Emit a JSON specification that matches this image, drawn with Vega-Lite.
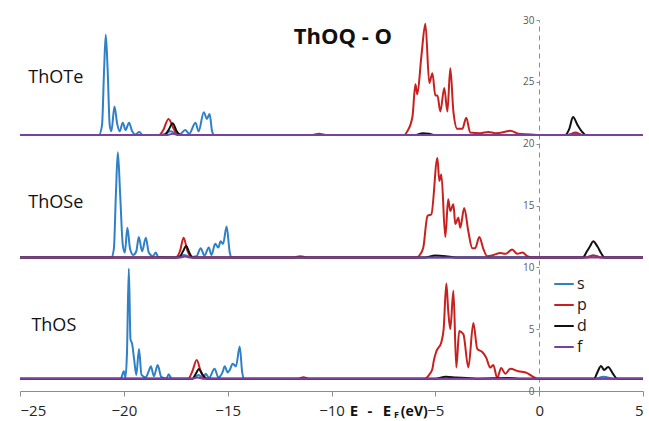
{
"$schema": "https://vega.github.io/schema/vega-lite/v6.json",
"width": 623,
"height": 371,
"autosize": {"type": "none"},
"padding": {"left": 20, "top": 20, "right": 6, "bottom": 30},
"config": {"view": {"stroke": null}, "font": "Open Sans"},
"layer": [
{
"data": {"values": [
{"sys":"ThOTe","orb":"s","e":-25,"dos":20.7},{"sys":"ThOTe","orb":"s","e":-21.2,"dos":20.7},{"sys":"ThOTe","orb":"s","e":-21.05,"dos":21.5},{"sys":"ThOTe","orb":"s","e":-20.95,"dos":26},{"sys":"ThOTe","orb":"s","e":-20.87,"dos":28.8},{"sys":"ThOTe","orb":"s","e":-20.78,"dos":26},{"sys":"ThOTe","orb":"s","e":-20.68,"dos":21.5},{"sys":"ThOTe","orb":"s","e":-20.6,"dos":21.0},{"sys":"ThOTe","orb":"s","e":-20.45,"dos":23.0},{"sys":"ThOTe","orb":"s","e":-20.32,"dos":21.6},{"sys":"ThOTe","orb":"s","e":-20.2,"dos":21.0},{"sys":"ThOTe","orb":"s","e":-20.05,"dos":21.7},{"sys":"ThOTe","orb":"s","e":-19.92,"dos":21.1},{"sys":"ThOTe","orb":"s","e":-19.75,"dos":21.7},{"sys":"ThOTe","orb":"s","e":-19.6,"dos":21.0},{"sys":"ThOTe","orb":"s","e":-19.45,"dos":20.75},{"sys":"ThOTe","orb":"s","e":-19.25,"dos":20.95},{"sys":"ThOTe","orb":"s","e":-19.1,"dos":20.7},{"sys":"ThOTe","orb":"s","e":-18.3,"dos":20.7},{"sys":"ThOTe","orb":"s","e":-18.0,"dos":20.8},{"sys":"ThOTe","orb":"s","e":-17.75,"dos":21.0},{"sys":"ThOTe","orb":"s","e":-17.5,"dos":20.8},{"sys":"ThOTe","orb":"s","e":-17.3,"dos":20.75},{"sys":"ThOTe","orb":"s","e":-17.05,"dos":21.1},{"sys":"ThOTe","orb":"s","e":-16.85,"dos":20.8},{"sys":"ThOTe","orb":"s","e":-16.55,"dos":21.7},{"sys":"ThOTe","orb":"s","e":-16.4,"dos":21.0},{"sys":"ThOTe","orb":"s","e":-16.15,"dos":22.55},{"sys":"ThOTe","orb":"s","e":-16.0,"dos":22.0},{"sys":"ThOTe","orb":"s","e":-15.87,"dos":22.4},{"sys":"ThOTe","orb":"s","e":-15.75,"dos":21.0},{"sys":"ThOTe","orb":"s","e":-15.65,"dos":20.7},{"sys":"ThOTe","orb":"s","e":1.3,"dos":20.7},{"sys":"ThOTe","orb":"s","e":1.7,"dos":20.85},{"sys":"ThOTe","orb":"s","e":2.1,"dos":20.7},{"sys":"ThOTe","orb":"s","e":5,"dos":20.7},

{"sys":"ThOSe","orb":"s","e":-25,"dos":10.8},{"sys":"ThOSe","orb":"s","e":-20.6,"dos":10.8},{"sys":"ThOSe","orb":"s","e":-20.48,"dos":11.5},{"sys":"ThOSe","orb":"s","e":-20.38,"dos":16},{"sys":"ThOSe","orb":"s","e":-20.29,"dos":19.3},{"sys":"ThOSe","orb":"s","e":-20.18,"dos":16},{"sys":"ThOSe","orb":"s","e":-20.05,"dos":11.8},{"sys":"ThOSe","orb":"s","e":-19.95,"dos":11.2},{"sys":"ThOSe","orb":"s","e":-19.83,"dos":13.2},{"sys":"ThOSe","orb":"s","e":-19.7,"dos":11.5},{"sys":"ThOSe","orb":"s","e":-19.55,"dos":11.0},{"sys":"ThOSe","orb":"s","e":-19.4,"dos":11.3},{"sys":"ThOSe","orb":"s","e":-19.28,"dos":12.45},{"sys":"ThOSe","orb":"s","e":-19.12,"dos":11.3},{"sys":"ThOSe","orb":"s","e":-18.94,"dos":12.4},{"sys":"ThOSe","orb":"s","e":-18.8,"dos":11.2},{"sys":"ThOSe","orb":"s","e":-18.6,"dos":10.9},{"sys":"ThOSe","orb":"s","e":-18.46,"dos":11.2},{"sys":"ThOSe","orb":"s","e":-18.35,"dos":10.85},{"sys":"ThOSe","orb":"s","e":-17.5,"dos":10.8},{"sys":"ThOSe","orb":"s","e":-17.1,"dos":11.0},{"sys":"ThOSe","orb":"s","e":-16.8,"dos":10.85},{"sys":"ThOSe","orb":"s","e":-16.5,"dos":10.9},{"sys":"ThOSe","orb":"s","e":-16.3,"dos":11.55},{"sys":"ThOSe","orb":"s","e":-16.12,"dos":10.95},{"sys":"ThOSe","orb":"s","e":-15.91,"dos":11.6},{"sys":"ThOSe","orb":"s","e":-15.78,"dos":11.0},{"sys":"ThOSe","orb":"s","e":-15.6,"dos":11.9},{"sys":"ThOSe","orb":"s","e":-15.45,"dos":11.6},{"sys":"ThOSe","orb":"s","e":-15.34,"dos":12.1},{"sys":"ThOSe","orb":"s","e":-15.22,"dos":11.9},{"sys":"ThOSe","orb":"s","e":-15.05,"dos":13.3},{"sys":"ThOSe","orb":"s","e":-14.9,"dos":11.2},{"sys":"ThOSe","orb":"s","e":-14.8,"dos":10.8},{"sys":"ThOSe","orb":"s","e":2.2,"dos":10.8},{"sys":"ThOSe","orb":"s","e":2.6,"dos":10.95},{"sys":"ThOSe","orb":"s","e":3.0,"dos":10.8},{"sys":"ThOSe","orb":"s","e":5,"dos":10.8},

{"sys":"ThOS","orb":"s","e":-25,"dos":1.0},{"sys":"ThOS","orb":"s","e":-20.15,"dos":1.0},{"sys":"ThOS","orb":"s","e":-20.0,"dos":1.6},{"sys":"ThOS","orb":"s","e":-19.92,"dos":1.1},{"sys":"ThOS","orb":"s","e":-19.85,"dos":3.0},{"sys":"ThOS","orb":"s","e":-19.76,"dos":9.9},{"sys":"ThOS","orb":"s","e":-19.68,"dos":4.2},{"sys":"ThOS","orb":"s","e":-19.6,"dos":3.8},{"sys":"ThOS","orb":"s","e":-19.5,"dos":2.5},{"sys":"ThOS","orb":"s","e":-19.4,"dos":1.3},{"sys":"ThOS","orb":"s","e":-19.27,"dos":3.4},{"sys":"ThOS","orb":"s","e":-19.15,"dos":1.3},{"sys":"ThOS","orb":"s","e":-18.95,"dos":1.1},{"sys":"ThOS","orb":"s","e":-18.8,"dos":1.6},{"sys":"ThOS","orb":"s","e":-18.7,"dos":2.0},{"sys":"ThOS","orb":"s","e":-18.55,"dos":1.2},{"sys":"ThOS","orb":"s","e":-18.37,"dos":2.1},{"sys":"ThOS","orb":"s","e":-18.2,"dos":1.15},{"sys":"ThOS","orb":"s","e":-17.95,"dos":1.0},{"sys":"ThOS","orb":"s","e":-17.84,"dos":1.35},{"sys":"ThOS","orb":"s","e":-17.7,"dos":1.0},{"sys":"ThOS","orb":"s","e":-16.7,"dos":1.0},{"sys":"ThOS","orb":"s","e":-16.4,"dos":1.3},{"sys":"ThOS","orb":"s","e":-16.2,"dos":1.05},{"sys":"ThOS","orb":"s","e":-16.05,"dos":1.4},{"sys":"ThOS","orb":"s","e":-15.9,"dos":1.05},{"sys":"ThOS","orb":"s","e":-15.63,"dos":1.8},{"sys":"ThOS","orb":"s","e":-15.45,"dos":1.1},{"sys":"ThOS","orb":"s","e":-15.25,"dos":1.5},{"sys":"ThOS","orb":"s","e":-15.14,"dos":2.0},{"sys":"ThOS","orb":"s","e":-15.0,"dos":1.5},{"sys":"ThOS","orb":"s","e":-14.9,"dos":1.7},{"sys":"ThOS","orb":"s","e":-14.76,"dos":2.2},{"sys":"ThOS","orb":"s","e":-14.6,"dos":2.0},{"sys":"ThOS","orb":"s","e":-14.42,"dos":3.6},{"sys":"ThOS","orb":"s","e":-14.3,"dos":1.5},{"sys":"ThOS","orb":"s","e":-14.2,"dos":1.0},{"sys":"ThOS","orb":"s","e":2.7,"dos":1.0},{"sys":"ThOS","orb":"s","e":3.1,"dos":1.15},{"sys":"ThOS","orb":"s","e":3.6,"dos":1.0},{"sys":"ThOS","orb":"s","e":5,"dos":1.0},

{"sys":"ThOTe","orb":"p","e":-25,"dos":20.7},{"sys":"ThOTe","orb":"p","e":-18.3,"dos":20.7},{"sys":"ThOTe","orb":"p","e":-18.1,"dos":21.1},{"sys":"ThOTe","orb":"p","e":-17.85,"dos":22.0},{"sys":"ThOTe","orb":"p","e":-17.6,"dos":21.2},{"sys":"ThOTe","orb":"p","e":-17.4,"dos":20.7},{"sys":"ThOTe","orb":"p","e":-11,"dos":20.7},{"sys":"ThOTe","orb":"p","e":-10.6,"dos":20.8},{"sys":"ThOTe","orb":"p","e":-10.2,"dos":20.7},{"sys":"ThOTe","orb":"p","e":-6.5,"dos":20.7},{"sys":"ThOTe","orb":"p","e":-6.35,"dos":21.0},{"sys":"ThOTe","orb":"p","e":-6.1,"dos":22.2},{"sys":"ThOTe","orb":"p","e":-5.96,"dos":24.8},{"sys":"ThOTe","orb":"p","e":-5.87,"dos":24.0},{"sys":"ThOTe","orb":"p","e":-5.67,"dos":27.1},{"sys":"ThOTe","orb":"p","e":-5.48,"dos":29.7},{"sys":"ThOTe","orb":"p","e":-5.29,"dos":24.9},{"sys":"ThOTe","orb":"p","e":-5.14,"dos":25.7},{"sys":"ThOTe","orb":"p","e":-5.0,"dos":23.9},{"sys":"ThOTe","orb":"p","e":-4.9,"dos":23.9},{"sys":"ThOTe","orb":"p","e":-4.76,"dos":22.6},{"sys":"ThOTe","orb":"p","e":-4.57,"dos":24.5},{"sys":"ThOTe","orb":"p","e":-4.42,"dos":22.6},{"sys":"ThOTe","orb":"p","e":-4.28,"dos":26.1},{"sys":"ThOTe","orb":"p","e":-4.13,"dos":22.6},{"sys":"ThOTe","orb":"p","e":-3.94,"dos":21.2},{"sys":"ThOTe","orb":"p","e":-3.7,"dos":21.2},{"sys":"ThOTe","orb":"p","e":-3.51,"dos":22.1},{"sys":"ThOTe","orb":"p","e":-3.32,"dos":20.9},{"sys":"ThOTe","orb":"p","e":-2.84,"dos":20.85},{"sys":"ThOTe","orb":"p","e":-2.45,"dos":20.95},{"sys":"ThOTe","orb":"p","e":-2.1,"dos":20.85},{"sys":"ThOTe","orb":"p","e":-1.54,"dos":21.0},{"sys":"ThOTe","orb":"p","e":-1.39,"dos":21.05},{"sys":"ThOTe","orb":"p","e":-1.0,"dos":20.8},{"sys":"ThOTe","orb":"p","e":-0.4,"dos":20.75},{"sys":"ThOTe","orb":"p","e":0,"dos":20.7},{"sys":"ThOTe","orb":"p","e":1.4,"dos":20.7},{"sys":"ThOTe","orb":"p","e":1.75,"dos":20.9},{"sys":"ThOTe","orb":"p","e":2.1,"dos":20.7},{"sys":"ThOTe","orb":"p","e":5,"dos":20.7},

{"sys":"ThOSe","orb":"p","e":-25,"dos":10.8},{"sys":"ThOSe","orb":"p","e":-17.5,"dos":10.8},{"sys":"ThOSe","orb":"p","e":-17.3,"dos":11.3},{"sys":"ThOSe","orb":"p","e":-17.12,"dos":12.4},{"sys":"ThOSe","orb":"p","e":-16.95,"dos":11.4},{"sys":"ThOSe","orb":"p","e":-16.75,"dos":10.8},{"sys":"ThOSe","orb":"p","e":-11.8,"dos":10.8},{"sys":"ThOSe","orb":"p","e":-11.5,"dos":10.9},{"sys":"ThOSe","orb":"p","e":-11.2,"dos":10.8},{"sys":"ThOSe","orb":"p","e":-5.9,"dos":10.8},{"sys":"ThOSe","orb":"p","e":-5.75,"dos":11.0},{"sys":"ThOSe","orb":"p","e":-5.58,"dos":11.6},{"sys":"ThOSe","orb":"p","e":-5.38,"dos":14.15},{"sys":"ThOSe","orb":"p","e":-5.19,"dos":14.3},{"sys":"ThOSe","orb":"p","e":-4.9,"dos":18.85},{"sys":"ThOSe","orb":"p","e":-4.81,"dos":17.0},{"sys":"ThOSe","orb":"p","e":-4.71,"dos":17.5},{"sys":"ThOSe","orb":"p","e":-4.52,"dos":12.45},{"sys":"ThOSe","orb":"p","e":-4.38,"dos":15.5},{"sys":"ThOSe","orb":"p","e":-4.28,"dos":14.55},{"sys":"ThOSe","orb":"p","e":-4.13,"dos":15.1},{"sys":"ThOSe","orb":"p","e":-4.04,"dos":13.5},{"sys":"ThOSe","orb":"p","e":-3.89,"dos":14.0},{"sys":"ThOSe","orb":"p","e":-3.8,"dos":13.2},{"sys":"ThOSe","orb":"p","e":-3.61,"dos":14.8},{"sys":"ThOSe","orb":"p","e":-3.41,"dos":12.9},{"sys":"ThOSe","orb":"p","e":-3.22,"dos":11.55},{"sys":"ThOSe","orb":"p","e":-3.08,"dos":11.55},{"sys":"ThOSe","orb":"p","e":-2.88,"dos":12.45},{"sys":"ThOSe","orb":"p","e":-2.69,"dos":11.5},{"sys":"ThOSe","orb":"p","e":-2.5,"dos":10.9},{"sys":"ThOSe","orb":"p","e":-2.2,"dos":11.0},{"sys":"ThOSe","orb":"p","e":-1.88,"dos":11.15},{"sys":"ThOSe","orb":"p","e":-1.6,"dos":11.1},{"sys":"ThOSe","orb":"p","e":-1.3,"dos":11.45},{"sys":"ThOSe","orb":"p","e":-1.06,"dos":11.1},{"sys":"ThOSe","orb":"p","e":-0.8,"dos":11.2},{"sys":"ThOSe","orb":"p","e":-0.58,"dos":10.9},{"sys":"ThOSe","orb":"p","e":-0.34,"dos":10.8},{"sys":"ThOSe","orb":"p","e":2.3,"dos":10.8},{"sys":"ThOSe","orb":"p","e":2.6,"dos":10.95},{"sys":"ThOSe","orb":"p","e":3.0,"dos":10.8},{"sys":"ThOSe","orb":"p","e":5,"dos":10.8},

{"sys":"ThOS","orb":"p","e":-25,"dos":1.0},{"sys":"ThOS","orb":"p","e":-16.9,"dos":1.0},{"sys":"ThOS","orb":"p","e":-16.7,"dos":1.6},{"sys":"ThOS","orb":"p","e":-16.49,"dos":2.5},{"sys":"ThOS","orb":"p","e":-16.3,"dos":1.6},{"sys":"ThOS","orb":"p","e":-16.1,"dos":1.0},{"sys":"ThOS","orb":"p","e":-11.6,"dos":1.0},{"sys":"ThOS","orb":"p","e":-11.35,"dos":1.12},{"sys":"ThOS","orb":"p","e":-11.1,"dos":1.0},{"sys":"ThOS","orb":"p","e":-5.5,"dos":1.0},{"sys":"ThOS","orb":"p","e":-5.3,"dos":1.3},{"sys":"ThOS","orb":"p","e":-5.14,"dos":1.8},{"sys":"ThOS","orb":"p","e":-5.08,"dos":2.4},{"sys":"ThOS","orb":"p","e":-4.95,"dos":3.2},{"sys":"ThOS","orb":"p","e":-4.71,"dos":3.95},{"sys":"ThOS","orb":"p","e":-4.6,"dos":5.0},{"sys":"ThOS","orb":"p","e":-4.47,"dos":8.7},{"sys":"ThOS","orb":"p","e":-4.38,"dos":6.5},{"sys":"ThOS","orb":"p","e":-4.28,"dos":5.0},{"sys":"ThOS","orb":"p","e":-4.13,"dos":8.1},{"sys":"ThOS","orb":"p","e":-3.99,"dos":1.9},{"sys":"ThOS","orb":"p","e":-3.85,"dos":4.85},{"sys":"ThOS","orb":"p","e":-3.65,"dos":4.6},{"sys":"ThOS","orb":"p","e":-3.41,"dos":1.9},{"sys":"ThOS","orb":"p","e":-3.17,"dos":5.5},{"sys":"ThOS","orb":"p","e":-2.98,"dos":3.4},{"sys":"ThOS","orb":"p","e":-2.74,"dos":3.15},{"sys":"ThOS","orb":"p","e":-2.55,"dos":2.7},{"sys":"ThOS","orb":"p","e":-2.36,"dos":1.9},{"sys":"ThOS","orb":"p","e":-2.21,"dos":2.1},{"sys":"ThOS","orb":"p","e":-2.02,"dos":1.05},{"sys":"ThOS","orb":"p","e":-1.83,"dos":1.85},{"sys":"ThOS","orb":"p","e":-1.63,"dos":1.4},{"sys":"ThOS","orb":"p","e":-1.39,"dos":1.8},{"sys":"ThOS","orb":"p","e":-1.01,"dos":1.6},{"sys":"ThOS","orb":"p","e":-0.58,"dos":1.45},{"sys":"ThOS","orb":"p","e":-0.29,"dos":1.15},{"sys":"ThOS","orb":"p","e":-0.1,"dos":1.0},{"sys":"ThOS","orb":"p","e":5,"dos":1.0},

{"sys":"ThOTe","orb":"d","e":-25,"dos":20.7},{"sys":"ThOTe","orb":"d","e":-18.05,"dos":20.7},{"sys":"ThOTe","orb":"d","e":-17.85,"dos":21.1},{"sys":"ThOTe","orb":"d","e":-17.65,"dos":21.65},{"sys":"ThOTe","orb":"d","e":-17.45,"dos":21.0},{"sys":"ThOTe","orb":"d","e":-17.25,"dos":20.7},{"sys":"ThOTe","orb":"d","e":-6.0,"dos":20.7},{"sys":"ThOTe","orb":"d","e":-5.6,"dos":20.85},{"sys":"ThOTe","orb":"d","e":-5.3,"dos":20.8},{"sys":"ThOTe","orb":"d","e":-5.0,"dos":20.7},{"sys":"ThOTe","orb":"d","e":1.25,"dos":20.7},{"sys":"ThOTe","orb":"d","e":1.45,"dos":21.2},{"sys":"ThOTe","orb":"d","e":1.63,"dos":22.15},{"sys":"ThOTe","orb":"d","e":1.85,"dos":21.5},{"sys":"ThOTe","orb":"d","e":2.1,"dos":20.9},{"sys":"ThOTe","orb":"d","e":2.25,"dos":20.7},{"sys":"ThOTe","orb":"d","e":5,"dos":20.7},

{"sys":"ThOSe","orb":"d","e":-25,"dos":10.8},{"sys":"ThOSe","orb":"d","e":-17.35,"dos":10.8},{"sys":"ThOSe","orb":"d","e":-17.15,"dos":11.3},{"sys":"ThOSe","orb":"d","e":-17.0,"dos":11.72},{"sys":"ThOSe","orb":"d","e":-16.85,"dos":11.2},{"sys":"ThOSe","orb":"d","e":-16.7,"dos":10.8},{"sys":"ThOSe","orb":"d","e":-5.5,"dos":10.8},{"sys":"ThOSe","orb":"d","e":-5.0,"dos":10.95},{"sys":"ThOSe","orb":"d","e":-4.5,"dos":10.9},{"sys":"ThOSe","orb":"d","e":-4.0,"dos":10.8},{"sys":"ThOSe","orb":"d","e":2.1,"dos":10.8},{"sys":"ThOSe","orb":"d","e":2.3,"dos":11.3},{"sys":"ThOSe","orb":"d","e":2.45,"dos":11.7},{"sys":"ThOSe","orb":"d","e":2.6,"dos":12.1},{"sys":"ThOSe","orb":"d","e":2.8,"dos":11.7},{"sys":"ThOSe","orb":"d","e":3.0,"dos":11.1},{"sys":"ThOSe","orb":"d","e":3.15,"dos":10.8},{"sys":"ThOSe","orb":"d","e":5,"dos":10.8},

{"sys":"ThOS","orb":"d","e":-25,"dos":1.0},{"sys":"ThOS","orb":"d","e":-16.7,"dos":1.0},{"sys":"ThOS","orb":"d","e":-16.5,"dos":1.5},{"sys":"ThOS","orb":"d","e":-16.39,"dos":1.78},{"sys":"ThOS","orb":"d","e":-16.2,"dos":1.3},{"sys":"ThOS","orb":"d","e":-16.0,"dos":1.0},{"sys":"ThOS","orb":"d","e":-5.0,"dos":1.0},{"sys":"ThOS","orb":"d","e":-4.5,"dos":1.15},{"sys":"ThOS","orb":"d","e":-4.0,"dos":1.1},{"sys":"ThOS","orb":"d","e":-3.5,"dos":1.05},{"sys":"ThOS","orb":"d","e":-3.0,"dos":1.0},{"sys":"ThOS","orb":"d","e":-1.5,"dos":1.05},{"sys":"ThOS","orb":"d","e":-1.0,"dos":1.0},{"sys":"ThOS","orb":"d","e":2.65,"dos":1.0},{"sys":"ThOS","orb":"d","e":2.8,"dos":1.5},{"sys":"ThOS","orb":"d","e":2.98,"dos":2.02},{"sys":"ThOS","orb":"d","e":3.13,"dos":1.7},{"sys":"ThOS","orb":"d","e":3.32,"dos":1.94},{"sys":"ThOS","orb":"d","e":3.55,"dos":1.4},{"sys":"ThOS","orb":"d","e":3.75,"dos":1.0},{"sys":"ThOS","orb":"d","e":5,"dos":1.0},

{"sys":"ThOTe","orb":"f","e":-25,"dos":20.7},{"sys":"ThOTe","orb":"f","e":-17.9,"dos":20.7},{"sys":"ThOTe","orb":"f","e":-17.65,"dos":20.8},{"sys":"ThOTe","orb":"f","e":-17.4,"dos":20.7},{"sys":"ThOTe","orb":"f","e":5,"dos":20.7},
{"sys":"ThOSe","orb":"f","e":-25,"dos":10.8},{"sys":"ThOSe","orb":"f","e":-17.3,"dos":10.8},{"sys":"ThOSe","orb":"f","e":-17.05,"dos":10.88},{"sys":"ThOSe","orb":"f","e":-16.8,"dos":10.8},{"sys":"ThOSe","orb":"f","e":5,"dos":10.8},
{"sys":"ThOS","orb":"f","e":-25,"dos":1.0},{"sys":"ThOS","orb":"f","e":-16.7,"dos":1.0},{"sys":"ThOS","orb":"f","e":-16.45,"dos":1.1},{"sys":"ThOS","orb":"f","e":-16.2,"dos":1.0},{"sys":"ThOS","orb":"f","e":5,"dos":1.0}
]},
"mark": {"type": "line", "interpolate": "monotone", "strokeWidth": 2},
"encoding": {
"x": {"field": "e", "type": "quantitative", "scale": {"domain": [-25, 5], "nice": false},
"axis": {"title": null, "values": [-25, -20, -15, -10, -5, 0, 5], "grid": false, "domainColor": "#8c8c8c", "tickColor": "#8c8c8c", "tickSize": 5, "labelFontSize": 15, "labelColor": "#262626", "labelPadding": 7}},
"y": {"field": "dos", "type": "quantitative", "scale": {"domain": [0, 30], "nice": false, "zero": false},
"axis": {"title": null, "orient": "left", "offset": -519, "values": [0, 5, 10, 15, 20, 25, 30], "grid": false, "labelOverlap": false, "domainColor": "#8c8c8c", "domainDash": [5, 4], "tickColor": "#8c8c8c", "tickSize": 3, "labelFontSize": 10, "labelColor": "#595959", "labelPadding": 2}},
"color": {"field": "orb", "type": "nominal", "scale": {"domain": ["s", "p", "d", "f"], "range": ["#2f80c6", "#c8201e", "#111111", "#7b3f9e"]},
"legend": {"title": null, "orient": "none", "legendX": 533, "legendY": 253, "symbolType": "stroke", "symbolStrokeWidth": 2, "symbolSize": 380, "labelFontSize": 16, "labelColor": "#1a1a1a", "labelOffset": 2, "rowPadding": 2}},
"detail": {"field": "sys", "type": "nominal"}
}
},
{"data": {"values": [{}]}, "mark": {"type": "text", "text": "ThOQ - O", "fontSize": 22, "fontWeight": "bold", "align": "center", "baseline": "alphabetic", "color": "#111111"},
"encoding": {"x": {"datum": -9.45, "type": "quantitative"}, "y": {"datum": 28.05, "type": "quantitative"}}},
{"data": {"values": [{}]}, "mark": {"type": "text", "text": "ThOTe", "fontSize": 18, "align": "left", "baseline": "alphabetic", "color": "#111111"},
"encoding": {"x": {"datum": -24.6, "type": "quantitative"}, "y": {"datum": 24.9, "type": "quantitative"}}},
{"data": {"values": [{}]}, "mark": {"type": "text", "text": "ThOSe", "fontSize": 18, "align": "left", "baseline": "alphabetic", "color": "#111111"},
"encoding": {"x": {"datum": -24.6, "type": "quantitative"}, "y": {"datum": 14.8, "type": "quantitative"}}},
{"data": {"values": [{}]}, "mark": {"type": "text", "text": "ThOS", "fontSize": 18, "align": "left", "baseline": "alphabetic", "color": "#111111"},
"encoding": {"x": {"datum": -24.45, "type": "quantitative"}, "y": {"datum": 4.85, "type": "quantitative"}}},
{"data": {"values": [{}]}, "mark": {"type": "text", "text": "E", "fontSize": 15, "fontWeight": "bold", "align": "center", "baseline": "alphabetic", "color": "#111111"},
"encoding": {"x": {"datum": -8.92, "type": "quantitative"}, "y": {"datum": -2.05, "type": "quantitative"}}},
{"data": {"values": [{}]}, "mark": {"type": "text", "text": "-", "fontSize": 15, "fontWeight": "bold", "align": "center", "baseline": "alphabetic", "color": "#111111"},
"encoding": {"x": {"datum": -8.15, "type": "quantitative"}, "y": {"datum": -2.05, "type": "quantitative"}}},
{"data": {"values": [{}]}, "mark": {"type": "text", "text": "E", "fontSize": 15, "fontWeight": "bold", "align": "center", "baseline": "alphabetic", "color": "#111111"},
"encoding": {"x": {"datum": -7.33, "type": "quantitative"}, "y": {"datum": -2.05, "type": "quantitative"}}},
{"data": {"values": [{}]}, "mark": {"type": "text", "text": "F", "fontSize": 9, "fontWeight": "bold", "align": "center", "baseline": "alphabetic", "color": "#111111"},
"encoding": {"x": {"datum": -6.87, "type": "quantitative"}, "y": {"datum": -2.2, "type": "quantitative"}}},
{"data": {"values": [{}]}, "mark": {"type": "text", "text": "(eV)", "fontSize": 14, "fontWeight": "bold", "align": "left", "baseline": "alphabetic", "color": "#111111"},
"encoding": {"x": {"datum": -6.66, "type": "quantitative"}, "y": {"datum": -2.05, "type": "quantitative"}}}
]
}
